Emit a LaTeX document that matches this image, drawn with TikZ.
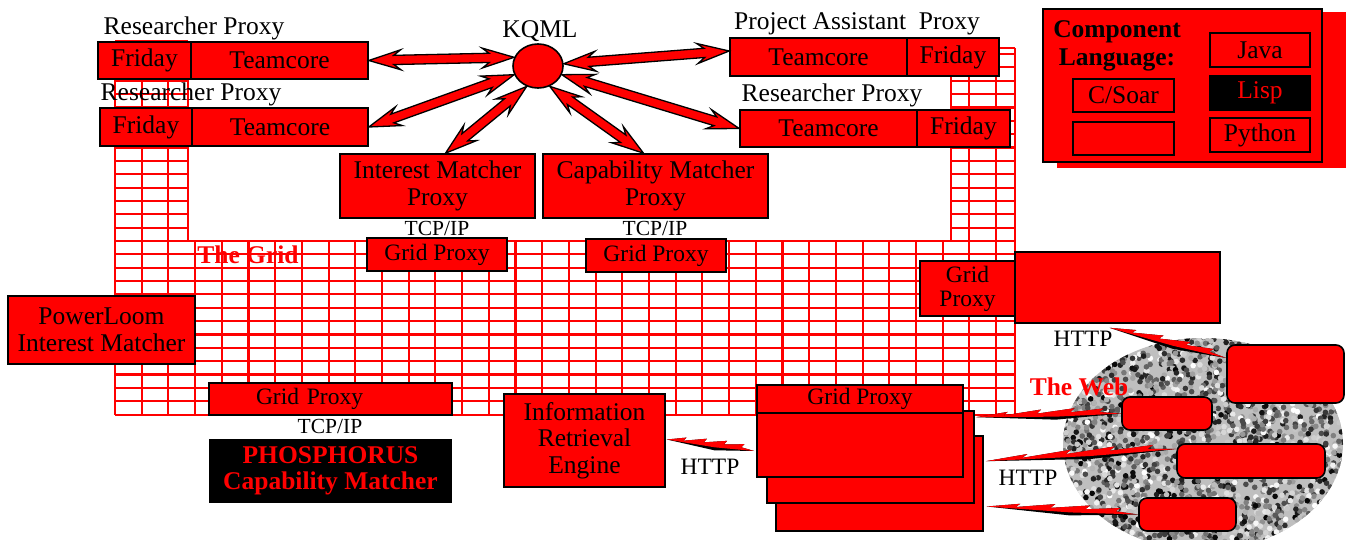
\documentclass[tikz,border=0pt]{standalone}
\usepackage{fontspec}
\setmainfont{Liberation Serif}
\usetikzlibrary{calc,shapes.geometric}

\newcommand\fsA{\fontsize{25.5}{26.5}\selectfont}
\newcommand\fsB{\fontsize{23.5}{24}\selectfont}
\newcommand\fsC{\fontsize{21.5}{22}\selectfont}
\newcommand\fsT{\fontsize{25.5}{28}\selectfont\bfseries}

\tikzset{
  box/.style={draw=black, fill=red, line width=1.6pt, inner sep=0pt, align=center, font=\fsA},
  wbox/.style={box, rounded corners=8pt},
  lbl/.style={inner sep=0pt, font=\fsA, text=black, align=center},
  arr/.style={draw=black, fill=red, line width=1.3pt, line join=miter},
  gridline/.style={red, line width=2.1pt},
}

\newcommand\dblarr[2]{%
  \path[arr] (#1)
   -- ($(#1)!32pt!(#2)!10pt!90:(#2)$)
   -- ($(#1)!25pt!(#2)!4.6pt!90:(#2)$)
   -- ($(#2)!25pt!(#1)!4.6pt!-90:(#1)$)
   -- ($(#2)!32pt!(#1)!10pt!-90:(#1)$)
   -- (#2)
   -- ($(#2)!32pt!(#1)!10pt!90:(#1)$)
   -- ($(#2)!25pt!(#1)!4.6pt!90:(#1)$)
   -- ($(#1)!25pt!(#2)!4.6pt!-90:(#2)$)
   -- ($(#1)!32pt!(#2)!10pt!-90:(#2)$)
   -- cycle;}

\newcommand\boltpath[4]{%
  \fill[#3] (#1)
   -- ($(#1)!0.22!(#2)!4.5pt!90:(#2)$)
   -- ($(#1)!0.19!(#2)!1pt!90:(#2)$)
   -- ($(#1)!0.45!(#2)!6pt!90:(#2)$)
   -- ($(#1)!0.42!(#2)!2pt!90:(#2)$)
   -- ($(#1)!0.68!(#2)!6.5pt!90:(#2)$)
   -- ($(#1)!0.65!(#2)!2.5pt!90:(#2)$)
   -- ($(#1)!0.88!(#2)!5.5pt!90:(#2)$)
   -- ($(#1)!0.85!(#2)!2pt!90:(#2)$)
   -- (#2)
   -- ($(#1)!0.55!(#2)!#4!-90:(#2)$)
   -- cycle;}
\newcommand\bolt[2]{\boltpath{#1}{#2}{black}{4.5pt}\boltpath{#1}{#2}{red}{1.5pt}}

\begin{document}
\begin{tikzpicture}[x=1pt,y=-1pt]
\useasboundingbox (0,0) rectangle (1347,540);
\clip (0,0) rectangle (1347,540);

% ---------------- the grid
\foreach \i in {0,...,33} \draw[gridline] ({115+26.7*\i},241) -- ({115+26.7*\i},415);
\draw[gridline] (1015,241) -- (1015,415);
\foreach \j in {0,...,13} \draw[gridline] (115,{241+13.35*\j}) -- (1015,{241+13.35*\j});
\foreach \x in {115,141.7,168.4,188} \draw[gridline] (\x,41) -- (\x,241);
\foreach \j in {1,...,15} \draw[gridline] (115,{241-13.35*\j}) -- (188,{241-13.35*\j});
\foreach \x in {951,969.4,996.1,1015} \draw[gridline] (\x,48) -- (\x,241);
\foreach \j in {1,...,14} \draw[gridline] (951,{241-13.35*\j}) -- (1015,{241-13.35*\j});
\draw[gridline] (951,48) -- (1015,48);

% ---------------- the web (textured ellipse)
\begin{scope}
  \clip (1203,444) ellipse [x radius=140, y radius=106];
  \fill[gray!50] (1060,335) rectangle (1347,560);
  \pgfmathsetseed{7}
  \foreach \i in {1,...,2300}{
    \pgfmathsetmacro\px{1063+280*rnd}
    \pgfmathsetmacro\py{336+214*rnd}
    \pgfmathsetmacro\sh{int(100*rnd)}
    \fill[black!\sh] (\px,\py) circle[radius=2.8];
  }
\end{scope}

% ---------------- top proxies
\node[box, minimum width=93pt, minimum height=37pt] (rp1f) at (144.5,60.5) {Friday};
\node[box, minimum width=177pt, minimum height=37pt] (rp1t) at (279.5,60.5) {Teamcore};
\node[box, minimum width=92pt, minimum height=38pt] (rp2f) at (146,127) {Friday};
\node[box, minimum width=176pt, minimum height=38pt] (rp2t) at (280,127) {Teamcore};
\node[box, minimum width=177pt, minimum height=38pt] (pat) at (818.5,57) {Teamcore};
\node[box, minimum width=92pt, minimum height=38pt] (paf) at (953,57) {Friday};
\node[box, minimum width=177pt, minimum height=37pt] (rp3t) at (828.5,128.5) {Teamcore};
\node[box, minimum width=93pt, minimum height=37pt] (rp3f) at (963.5,128.5) {Friday};

\node[lbl, anchor=base] (l1) at (194,35) {Researcher Proxy};
\node[lbl, anchor=base] (l2) at (191,101) {Researcher Proxy};
\node[lbl, anchor=base] (l3) at (540,38) {KQML};
\node[lbl, anchor=base] (l4) at (857,30) {Project Assistant~ Proxy};
\node[lbl, anchor=base] (l5) at (832,102) {Researcher Proxy};

\node[ellipse, draw=black, fill=red, line width=1.6pt, minimum width=50pt, minimum height=44pt, inner sep=0pt] (kqml) at (538,66) {};

% ---------------- matchers
\node[box, minimum width=195pt, minimum height=64pt] (imp) at (437.5,186) {Interest Matcher\\Proxy};
\node[box, minimum width=225pt, minimum height=64pt] (cmp) at (655.5,186) {Capability Matcher\\Proxy};
\node[lbl, font=\fsC] (tcp1) at (437,228) {TCP/IP};
\node[lbl, font=\fsC] (tcp2) at (655,228) {TCP/IP};
\node[box, font=\fsB, minimum width=140pt, minimum height=33pt] (gp1) at (437,254.5) {Grid Proxy};
\node[box, font=\fsB, minimum width=140pt, minimum height=33pt] (gp2) at (656,255.5) {Grid Proxy};
\node[lbl, font=\fsA\bfseries, text=red] (thegrid) at (248,255) {The Grid};

\node[box, minimum width=187pt, minimum height=68pt] (plim) at (101.5,330) {PowerLoom\\Interest Matcher};
\node[box, font=\fsB, text width=243pt, align=left, minimum height=32pt] (gp3) at (330.5,399) {\hspace*{47pt}Grid Proxy};
\node[lbl, font=\fsC] (tcp3) at (330,426) {TCP/IP};
\node[box, fill=black, text=red, font=\fsA\bfseries, minimum width=241pt, minimum height=62pt] (phos) at (330.5,471) {PHOSPHORUS\\Capability Matcher};

% ---------------- right middle
\node[box, font=\fsB, minimum width=95pt, minimum height=55pt] (gp4) at (967.5,288.5) {Grid\\Proxy};
\node[box, minimum width=205pt, minimum height=71pt] (gbig) at (1117.5,287.5) {};
\node[lbl, font=\fsB] (http1) at (1083,339) {HTTP};

% ---------------- bottom
\node[box, minimum width=161pt, minimum height=93pt] (ire) at (584.5,440.5) {Information\\Retrieval\\Engine};
\node[lbl, font=\fsB] (http2) at (710,467) {HTTP};
\node[box, minimum width=207pt, minimum height=95pt] (sb) at (879.5,483.5) {};
\node[box, minimum width=207pt, minimum height=92pt] (sm) at (870.5,457) {};
\node[box, minimum width=206pt, minimum height=64pt] (sf) at (860,445) {};
\node[box, font=\fsB, minimum width=206pt, minimum height=28pt] (sfgp) at (860,399) {Grid Proxy};
\node[lbl, font=\fsB] (http3) at (1028,478) {HTTP};

% ---------------- web boxes
\node[wbox, minimum width=117pt, minimum height=58pt] (w1) at (1285.5,374) {};
\node[wbox, minimum width=90pt, minimum height=33pt] (w2) at (1167,413.5) {};
\node[wbox, minimum width=148pt, minimum height=34pt] (w3) at (1251,461) {};
\node[wbox, minimum width=97pt, minimum height=33pt] (w4) at (1187.5,514.5) {};
\node[lbl, font=\fsA\bfseries, text=red] (theweb) at (1079,387) {The Web};

% ---------------- legend
\fill[red] (1057,12) rectangle (1346,168);
\node[box, line width=2.2pt, minimum width=279pt, minimum height=153pt] (leg) at (1182.5,85.5) {};
\node[lbl, font=\fsT] (legt) at (1117,46) {Component\\Language:};
\node[box, minimum width=101pt, minimum height=33pt] (csoar) at (1123.5,95.5) {C/Soar};
\node[box, minimum width=101pt, minimum height=33pt] (cempty) at (1123.5,138.5) {};
\node[box, minimum width=100pt, minimum height=34pt] (java) at (1260,50) {Java};
\node[box, fill=black, text=red, minimum width=100pt, minimum height=34pt] (lisp) at (1260,93) {Lisp};
\node[box, minimum width=100pt, minimum height=34pt] (python) at (1260,135) {Python};

% ---------------- KQML arrows
\coordinate (a3) at ($(imp.north)+(8,0)$);
\coordinate (a4) at ($(cmp.north)+(-12,0)$);
\coordinate (a6) at ($(pat.west)+(0,-6)$);
\dblarr{rp1t.east}{kqml.160}
\dblarr{rp2t.east}{kqml.200}
\dblarr{a3}{kqml.241}
\dblarr{a4}{kqml.300}
\dblarr{rp3t.west}{kqml.340}
\dblarr{a6}{kqml.5}

% ---------------- HTTP bolts
\coordinate (b1s) at ($(gbig.south)+(-8,4)$);
\coordinate (b1e) at ($(w1.west)+(0,-16)$);
\coordinate (b2s) at ($(ire.east)+(1,-1)$);
\coordinate (b2e) at ($(sf.west)+(-2,6)$);
\coordinate (b3s) at ($(sm.north east)+(1,7)$);
\coordinate (b4s) at ($(sb.north east)+(2,26)$);
\coordinate (b4e) at ($(w3.west)+(0,-12)$);
\coordinate (b5s) at ($(sb.east)+(3,23)$);
\bolt{b1s}{b1e}
\bolt{b2s}{b2e}
\bolt{b3s}{w2.west}
\bolt{b4s}{b4e}
\bolt{b5s}{w4.west}
\end{tikzpicture}
\end{document}
